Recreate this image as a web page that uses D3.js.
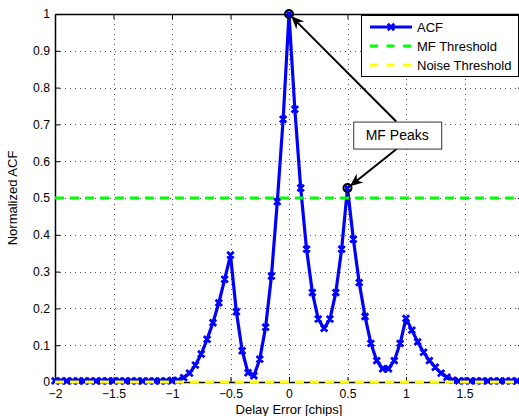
<!DOCTYPE html>
<html>
<head>
<meta charset="utf-8">
<script src="https://cdn.jsdelivr.net/npm/d3@7"></script>
<style>
  html, body { margin: 0; padding: 0; background: #fff; }
  svg { display: block; font-family: "Liberation Sans", Arial, Helvetica, sans-serif; }
</style>
</head>
<body>
<svg id="chart" width="519" height="416"></svg>
<script>
// delay grid (chips) and normalized ACF
const delays = [
  -2, -1.95, -1.9, -1.85, -1.8, -1.75, -1.7, -1.65, -1.6, -1.55,
  -1.5, -1.45, -1.4, -1.35, -1.3, -1.25, -1.2, -1.15, -1.1, -1.05,
  -1, -0.95, -0.9, -0.85, -0.8, -0.75, -0.7, -0.65, -0.6, -0.55,
  -0.5, -0.45, -0.4, -0.35, -0.3, -0.25, -0.2, -0.15, -0.1, -0.05,
  0, 0.05, 0.1, 0.15, 0.2, 0.25, 0.3, 0.35, 0.4, 0.45,
  0.5, 0.55, 0.6, 0.65, 0.7, 0.75, 0.8, 0.85, 0.9, 0.95,
  1, 1.05, 1.1, 1.15, 1.2, 1.25, 1.3, 1.35, 1.4, 1.45,
  1.5, 1.55, 1.6, 1.65, 1.7, 1.75, 1.8, 1.85, 1.9, 1.95,
  2
];
const acf = [
  0.003, 0.003, 0.003, 0.003, 0.003, 0.003, 0.003, 0.003, 0.003, 0.003,
  0.003, 0.003, 0.003, 0.003, 0.003, 0.003, 0.003, 0.003, 0.003, 0.003,
  0.004, 0.004, 0.012, 0.024, 0.046, 0.076, 0.116, 0.161, 0.215, 0.279,
  0.345, 0.191, 0.085, 0.025, 0.017, 0.062, 0.149, 0.288, 0.49, 0.714,
  1, 0.741, 0.527, 0.361, 0.243, 0.171, 0.146, 0.171, 0.243, 0.361,
  0.527, 0.388, 0.27, 0.178, 0.105, 0.058, 0.036, 0.036, 0.058, 0.105,
  0.173, 0.141, 0.109, 0.081, 0.058, 0.04, 0.024, 0.013, 0.005, 0.003,
  0.003, 0.003, 0.003, 0.003, 0.003, 0.003, 0.003, 0.003, 0.003, 0.003,
  0.003
];
const mfThreshold = 0.5;
const noiseThreshold = 0;
const peakDelays = [0, 0.5];
const xTicks = [-2, -1.5, -1, -0.5, 0, 0.5, 1, 1.5, 2];
const xTickLabels = ["\u22122", "\u22121.5", "\u22121", "\u22120.5", "0", "0.5", "1", "1.5", ""];
const yTicks = [0, 0.1, 0.2, 0.3, 0.4, 0.5, 0.6, 0.7, 0.8, 0.9, 1];
const yTickLabels = ["0", "0.1", "0.2", "0.3", "0.4", "0.5", "0.6", "0.7", "0.8", "0.9", "1"];
const legendLabels = ["ACF", "MF Threshold", "Noise Threshold"];
const annotationText = "MF Peaks";

const svg = d3.select("#chart");
const margin = {top: 14, left: 55, bottom: 34};
const width = 468, height = 368;

const x = d3.scaleLinear().domain([-2, 2]).range([margin.left, margin.left + width]);
const y = d3.scaleLinear().domain([0, 1]).range([margin.top + height, margin.top]);

const blue = "#0000ff", green = "#00ff00", yellow = "#ffff00";

svg.append("rect").attr("width", 519).attr("height", 416).attr("fill", "#fff");

// grid
const grid = svg.append("g").attr("stroke", "#555").attr("stroke-width", 1)
  .attr("stroke-dasharray", "1,4");
grid.selectAll(".gx").data(xTicks.slice(1, -1)).join("line")
  .attr("x1", d => Math.round(x(d)) + 0.5).attr("x2", d => Math.round(x(d)) + 0.5)
  .attr("y1", y(1)).attr("y2", y(0));
grid.selectAll(".gy").data(yTicks.slice(1, -1)).join("line")
  .attr("y1", d => Math.round(y(d)) + 0.5).attr("y2", d => Math.round(y(d)) + 0.5)
  .attr("x1", x(-2)).attr("x2", x(2));

// axes (ticks pointing inward, like matlab)
const axisStyle = g => {
  g.select(".domain").attr("stroke", "#000").attr("stroke-width", 1.5);
  g.selectAll(".tick line").attr("stroke", "#000");
  g.selectAll("text").attr("fill", "#000").attr("font-size", 12.2);
};
svg.append("g").attr("transform", `translate(0,${y(0)})`)
  .call(d3.axisBottom(x).tickValues(xTicks).tickFormat((d, i) => xTickLabels[i])
    .tickSize(-5).tickSizeOuter(0).tickPadding(7))
  .call(axisStyle);
svg.append("g").attr("transform", `translate(0,${y(1)})`)
  .call(d3.axisTop(x).tickValues(xTicks).tickFormat("").tickSize(-5).tickSizeOuter(0))
  .call(axisStyle);
svg.append("g").attr("transform", `translate(${x(-2)},0)`)
  .call(d3.axisLeft(y).tickValues(yTicks).tickFormat((d, i) => yTickLabels[i])
    .tickSize(-5).tickSizeOuter(0).tickPadding(5))
  .call(axisStyle);
svg.append("g").attr("transform", `translate(${x(2)},0)`)
  .call(d3.axisRight(y).tickValues(yTicks).tickFormat("").tickSize(-5).tickSizeOuter(0))
  .call(axisStyle);

// ACF curve
const pts = delays.map((d, i) => ({d, v: acf[i]}));
svg.append("path").datum(pts)
  .attr("fill", "none").attr("stroke", blue).attr("stroke-width", 3.2)
  .attr("stroke-linejoin", "round")
  .attr("d", d3.line().x(p => x(p.d)).y(p => y(p.v)));

const cross = (cx, cy, r) => `M${cx - r},${cy - r}L${cx + r},${cy + r}M${cx - r},${cy + r}L${cx + r},${cy - r}`;
svg.append("path")
  .attr("fill", "none").attr("stroke", blue).attr("stroke-width", 2.8)
  .attr("d", pts.map(p => cross(x(p.d), y(p.v), 3.2)).join(""));

// thresholds
svg.append("line").attr("x1", x(-2)).attr("x2", x(2))
  .attr("y1", y(mfThreshold)).attr("y2", y(mfThreshold))
  .attr("stroke", green).attr("stroke-width", 3).attr("stroke-dasharray", "9,6");
svg.append("line").attr("x1", x(-2)).attr("x2", x(2))
  .attr("y1", y(noiseThreshold)).attr("y2", y(noiseThreshold))
  .attr("stroke", yellow).attr("stroke-width", 3).attr("stroke-dasharray", "9,6");

// peak circles
const peaks = peakDelays.map(pd => pts.find(p => Math.abs(p.d - pd) < 1e-9));
svg.selectAll(".peak").data(peaks).join("circle")
  .attr("cx", p => x(p.d)).attr("cy", p => y(p.v)).attr("r", 4)
  .attr("fill", "none").attr("stroke", "#000").attr("stroke-width", 2);

// annotation box with arrows
const box = {cx: x(0.925), cy: y(0.671), w: 88, h: 27};
const tails = [[box.cx - 1, box.cy - box.h / 2], [box.cx, box.cy + box.h / 2]];
peaks.forEach((p, i) => {
  const [tx, ty] = tails[i];
  const px = x(p.d), py = y(p.v);
  const ang = Math.atan2(py - ty, px - tx);
  const len = Math.hypot(px - tx, py - ty) - 3;
  const g = svg.append("g").attr("transform", `translate(${tx},${ty}) rotate(${ang * 180 / Math.PI})`);
  g.append("line").attr("x1", 0).attr("y1", 0).attr("x2", len - 6).attr("y2", 0)
    .attr("stroke", "#000").attr("stroke-width", 2);
  g.append("path")
    .attr("d", `M${len},0L${len - 13},-5.5L${len - 9},0L${len - 13},5.5Z`)
    .attr("fill", "#000");
});
svg.append("rect")
  .attr("x", box.cx - box.w / 2 + 0.5).attr("y", box.cy - box.h / 2 + 0.5)
  .attr("width", box.w).attr("height", box.h)
  .attr("fill", "#fff").attr("stroke", "#333").attr("stroke-width", 1);
svg.append("text").attr("x", box.cx).attr("y", box.cy + 5)
  .attr("text-anchor", "middle").attr("font-size", 14).text(annotationText);

// legend
const leg = svg.append("g").attr("transform", "translate(361,15)");
leg.append("rect").attr("x", 0.5).attr("y", 0.5).attr("width", 157).attr("height", 61)
  .attr("fill", "#fff").attr("stroke", "#000").attr("stroke-width", 1);
const legColors = [blue, green, yellow];
legendLabels.forEach((lab, i) => {
  const ly = 12 + i * 19;
  leg.append("line").attr("x1", 9).attr("x2", 51).attr("y1", ly).attr("y2", ly)
    .attr("stroke", legColors[i]).attr("stroke-width", 3)
    .attr("stroke-dasharray", i === 0 ? null : "8,8.5");
  if (i === 0) {
    leg.append("path").attr("d", cross(30, ly, 3.2))
      .attr("stroke", blue).attr("stroke-width", 2.8).attr("fill", "none");
  }
  leg.append("text").attr("x", 56).attr("y", ly + 4.5)
    .attr("font-size", 13).text(lab);
});

// axis titles
svg.append("text").attr("x", x(0)).attr("y", 413.5)
  .attr("text-anchor", "middle").attr("font-size", 13).text("Delay Error [chips]");
svg.append("text").attr("transform", `translate(17,${y(0.5)}) rotate(-90)`)
  .attr("text-anchor", "middle").attr("font-size", 13).text("Normalized ACF");
</script>
</body>
</html>
